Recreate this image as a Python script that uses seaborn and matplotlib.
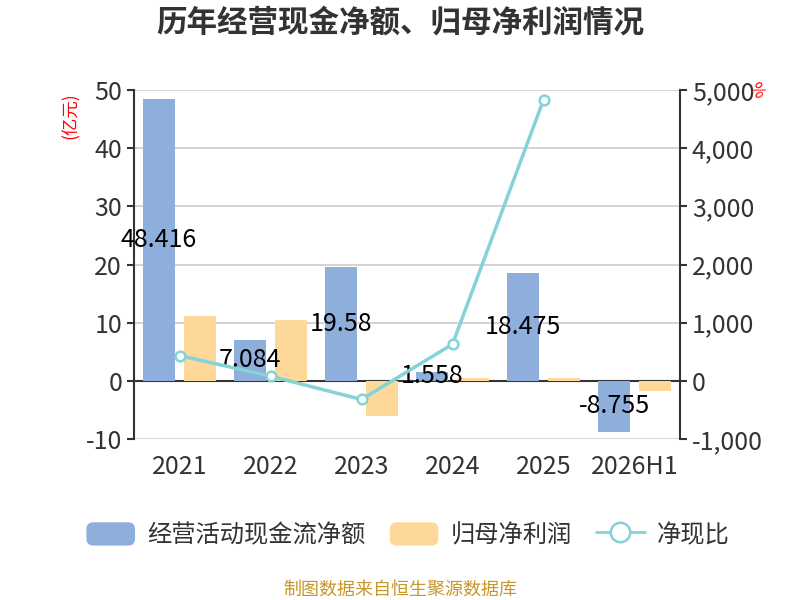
import pandas as pd
import seaborn as sns
from matplotlib import pyplot as plt
from matplotlib.patches import Patch, FancyBboxPatch
from matplotlib.lines import Line2D
from matplotlib.legend_handler import HandlerPatch
from matplotlib.ticker import FuncFormatter, MultipleLocator, FixedLocator

# data
years = ["2021", "2022", "2023", "2024", "2025", "2026H1"]
cash_flow = [48.416, 7.084, 19.58, 1.558, 18.475, -8.755]      # 经营活动现金流净额 (亿元)
net_profit = [11.2, 10.5, -6.1, 0.45, 0.55, -1.7]              # 归母净利润 (亿元)
ratio_years = ["2021", "2022", "2023", "2024", "2025"]
ratio = [435, 80, -320, 630, 4830]                             # 净现比 (%)

blue = "#8eaedb"
orange = "#fed898"
cyan = "#84d3d7"
dark = "#333333"

sns.set_style("white")
plt.rcParams["font.family"] = ["Noto Sans CJK SC", "DejaVu Sans"]
plt.rcParams["axes.unicode_minus"] = False

df = pd.DataFrame({
    "year": years * 2,
    "series": ["经营活动现金流净额"] * len(years) + ["归母净利润"] * len(years),
    "value": cash_flow + net_profit,
})

fig = plt.figure(figsize=(8, 6), dpi=100)
ax = fig.add_axes([0.1675, 0.2683, 0.6825, 0.5817])

sns.barplot(data=df, x="year", y="value", hue="series", order=years,
            palette=[blue, orange], saturation=1, width=0.9, gap=0.222, linewidth=0,
            ax=ax, legend=False, zorder=2)
ax.bar_label(ax.containers[0], labels=[f"{v:g}" for v in cash_flow],
             label_type="center", fontsize=18, color="black", zorder=5)

ax.set_ylim(-10, 50)
ax.set_xlim(-0.5, len(years) - 0.5)
ax.yaxis.set_major_locator(MultipleLocator(10))
ax.grid(axis="y", color="#cccccc", linewidth=1.2, zorder=0)
ax.grid(axis="x", visible=False)
ax.set_xlabel("")
ax.set_ylabel("")

# axis styling
ax.spines["top"].set_visible(False)
ax.spines["right"].set_visible(False)
ax.spines["left"].set_color(dark)
ax.spines["left"].set_linewidth(1.5)
ax.spines["bottom"].set_position(("data", 0))
ax.spines["bottom"].set_color(dark)
ax.spines["bottom"].set_linewidth(1.5)
ax.spines["bottom"].set_zorder(1.5)

ax.tick_params(axis="x", which="major", length=0, pad=53, labelsize=18, labelcolor=dark)
ax.xaxis.set_minor_locator(FixedLocator([i + 0.5 for i in range(len(years) - 1)]))
ax.tick_params(axis="x", which="minor", length=5, width=1.5, color=dark, direction="out")
ax.tick_params(axis="y", length=5, width=1.5, color=dark, direction="out",
               labelsize=18, labelcolor=dark, left=True)

# ratio line on the right axis
ax2 = ax.twinx()
sns.lineplot(x=[years.index(y) for y in ratio_years], y=ratio, ax=ax2, color=cyan,
             linewidth=2.5, marker="o", markersize=7, markerfacecolor="white",
             markeredgecolor=cyan, markeredgewidth=1.8, zorder=4)
ax2.set_ylim(-1000, 5000)
ax2.yaxis.set_major_locator(MultipleLocator(1000))
ax2.yaxis.set_major_formatter(FuncFormatter(lambda v, p: f"{v:,.0f}"))
ax2.grid(False)
for s in ["top", "left", "bottom"]:
    ax2.spines[s].set_visible(False)
ax2.spines["right"].set_color(dark)
ax2.spines["right"].set_linewidth(1.5)
ax2.tick_params(axis="y", length=5, width=1.5, color=dark, direction="out",
                labelsize=18, labelcolor=dark, right=True)

# units
fig.text(0.088, 0.808, "(亿元)", color="red", fontsize=12.5, rotation=90,
         ha="center", va="center")
fig.text(0.945, 0.85, "%", color="red", fontsize=12, rotation=-60,
         ha="center", va="center")

fig.text(0.5, 0.962, "历年经营现金净额、归母净利润情况", fontsize=22, fontweight="bold",
         color=dark, ha="center", va="center")


class RoundHandler(HandlerPatch):
    def create_artists(self, legend, orig_handle, xdescent, ydescent, width, height, fontsize, trans):
        p = FancyBboxPatch((-xdescent, -ydescent), width, height,
                           boxstyle="round,pad=0,rounding_size=5",
                           fc=orig_handle.get_facecolor(), ec="none", transform=trans)
        return [p]


handles = [
    Patch(facecolor=blue, label="经营活动现金流净额"),
    Patch(facecolor=orange, label="归母净利润"),
    Line2D([0], [0], color=cyan, linewidth=2, marker="o", markersize=14,
           markerfacecolor="white", markeredgecolor=cyan, markeredgewidth=1.8, label="净现比"),
]
fig.legend(handles=handles, loc="center", bbox_to_anchor=(0.51, 0.108), ncol=3,
           frameon=False, fontsize=17.5, labelcolor=dark, handlelength=2.0,
           handleheight=1.1, handletextpad=0.5, columnspacing=1.0,
           handler_map={Patch: RoundHandler()})

fig.text(0.5, 0.018, "制图数据来自恒生聚源数据库", fontsize=13, color="#c8962a",
         ha="center", va="center")

fig.savefig("out.png", dpi=100)
